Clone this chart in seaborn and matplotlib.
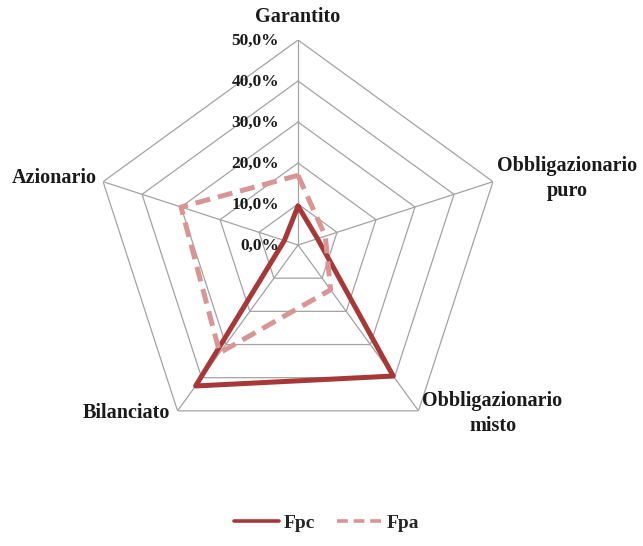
import numpy as np
import pandas as pd
import matplotlib
matplotlib.use('Agg')
import matplotlib.pyplot as plt
import seaborn as sns

# categorie (in senso orario partendo dall'alto)
categorie = ['Garantito', 'Obbligazionario\npuro', 'Obbligazionario\nmisto', 'Bilanciato', 'Azionario']
# quote percentuali
fpc = [9.5, 5.0, 39.5, 42.5, 3.5]
fpa = [17.0, 7.0, 13.5, 32.5, 30.0]
anelli = [10, 20, 30, 40, 50]
etichette_r = ['0,0%', '10,0%', '20,0%', '30,0%', '40,0%', '50,0%']

sns.set_theme(style='white')
plt.rcParams['font.family'] = ['Liberation Serif', 'DejaVu Serif']

angoli = np.linspace(0, 2 * np.pi, len(categorie), endpoint=False)
chiuso = np.append(angoli, 2 * np.pi)

righe = []
for nome, valori in [('Fpc', fpc), ('Fpa', fpa)]:
    vals = valori + [valori[0]]
    for t, v in zip(chiuso, vals):
        righe.append({'theta': t, 'valore': v, 'serie': nome})
df = pd.DataFrame(righe)

fig = plt.figure(figsize=(6.43, 5.46), dpi=100)
ax = fig.add_axes([0.1447, 0.1758, 0.6376, 0.7509], projection='polar')
ax.set_theta_offset(np.pi / 2)
ax.set_theta_direction(-1)
ax.set_ylim(0, 50)
ax.grid(False)
ax.spines['polar'].set_visible(False)
ax.patch.set_alpha(0)

# griglia pentagonale
griglia = '#a3a3a3'
for r in anelli:
    ax.plot(chiuso, [r] * len(chiuso), color=griglia, lw=0.9, zorder=1)
for t in angoli:
    ax.plot([t, t], [0, 50], color=griglia, lw=0.9, zorder=1)

sns.lineplot(data=df, x='theta', y='valore', hue='serie', style='serie',
             sort=False, estimator=None, ax=ax, zorder=3,
             palette={'Fpc': '#a83838', 'Fpa': '#d99593'},
             dashes={'Fpc': '', 'Fpa': (3, 1.6)}, linewidth=3.6)
ax.set_xlabel('')
ax.set_ylabel('')
ax.set_xticks([])
ax.set_yticks([])
ax.set_ylim(0, 50)

# etichette delle categorie
offsets = [((0, 23), 'center'), ((74, 3), 'center'), ((74, -3), 'center'),
           ((-7, -2), 'right'), ((-6, 4), 'right')]
for t, nome, (off, ha) in zip(angoli, categorie, offsets):
    ax.annotate(nome, xy=(t, 50), xytext=off, textcoords='offset pixels',
                ha=ha, va='center', multialignment='center', linespacing=1.35,
                fontsize=14.5, fontweight='bold', color='#1a1a1a')

# etichette radiali
for i, lab in enumerate(etichette_r):
    ax.annotate(lab, xy=(0, i * 10), xytext=(-19, -1), textcoords='offset pixels',
                ha='right', va='center', fontsize=12.5, fontweight='bold', color='#1a1a1a')

sns.move_legend(ax, 'center', bbox_to_anchor=(0.508, 0.042), bbox_transform=fig.transFigure,
                ncol=2, frameon=False, title=None, fontsize=14, handlelength=2.3,
                columnspacing=1.1, handletextpad=0.25)
leg = ax.get_legend()
for txt in leg.get_texts():
    txt.set_fontweight('bold')
for h in leg.get_lines():
    h.set_linewidth(2.6)

fig.savefig('out.png', dpi=100, facecolor='white')
